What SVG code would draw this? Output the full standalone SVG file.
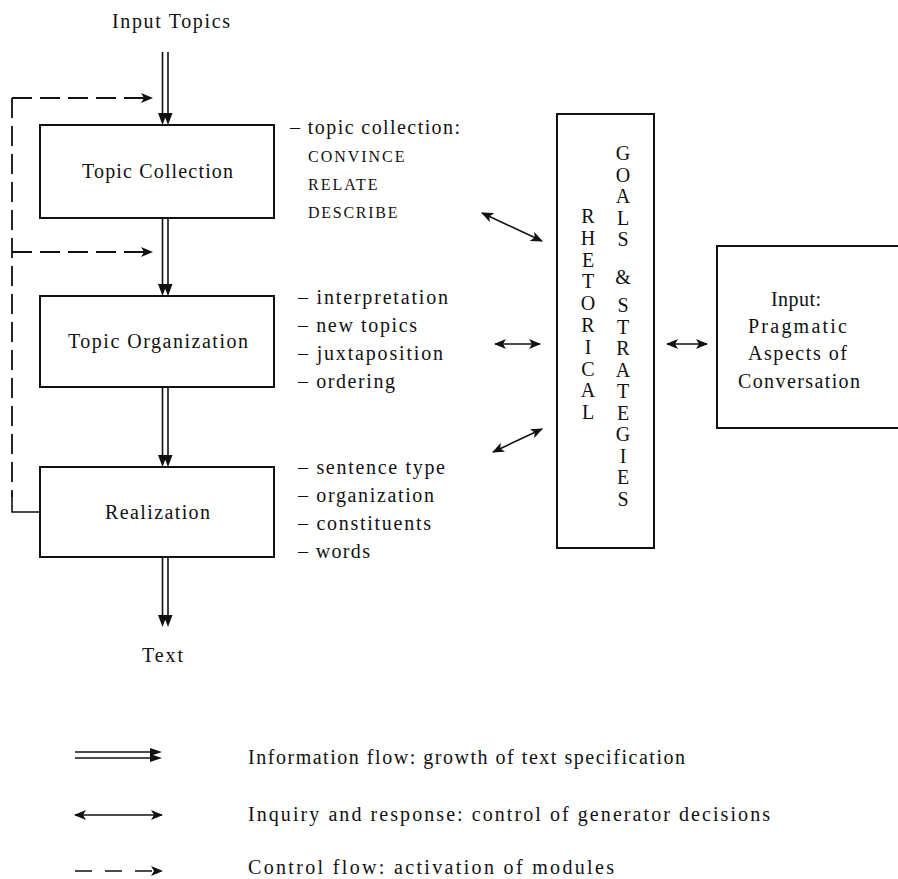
<svg xmlns="http://www.w3.org/2000/svg" width="898" height="879" viewBox="0 0 898 879">
<defs>
<style>
text{font-family:"Liberation Serif","Times New Roman",serif;font-size:20px;fill:#111}
.sc{font-size:16px;letter-spacing:1.5px}
.box{fill:#fff;stroke:#111;stroke-width:2}
.ln{stroke:#111;stroke-width:1.6;fill:none}
.dsh{stroke:#111;stroke-width:1.8;fill:none;stroke-dasharray:20 8}
.head{fill:#111}
</style>
<marker id="ah" viewBox="0 0 12 10" refX="11" refY="5" markerWidth="13" markerHeight="10" markerUnits="userSpaceOnUse" orient="auto-start-reverse">
<path d="M0,0 L12,5 L0,10 L3,5 Z" class="head"/>
</marker>
</defs>
<rect width="898" height="879" fill="#fff"/>

<g id="connectors">
<g id="flow-in">
<line class="ln" x1="162.5" y1="52" x2="162.5" y2="116"/>
<line class="ln" x1="168" y1="52" x2="168" y2="116"/>
<path class="head" d="M158,113 L162.5,125 L167,113 Z M163.5,113 L168,125 L172.5,113 Z"/>
</g>
<g id="flow-tc-to">
<line class="ln" x1="162.5" y1="218" x2="162.5" y2="287"/>
<line class="ln" x1="168" y1="218" x2="168" y2="287"/>
<path class="head" d="M158,284 L162.5,296 L167,284 Z M163.5,284 L168,296 L172.5,284 Z"/>
</g>
<g id="flow-to-r">
<line class="ln" x1="162.5" y1="387" x2="162.5" y2="458"/>
<line class="ln" x1="168" y1="387" x2="168" y2="458"/>
<path class="head" d="M158,455 L162.5,467 L167,455 Z M163.5,455 L168,467 L172.5,455 Z"/>
</g>
<g id="flow-out">
<line class="ln" x1="162.5" y1="557" x2="162.5" y2="618"/>
<line class="ln" x1="168" y1="557" x2="168" y2="618"/>
<path class="head" d="M158,615 L162.5,627 L167,615 Z M163.5,615 L168,627 L172.5,615 Z"/>
</g>
<g id="control">
<line class="dsh" x1="12" y1="98" x2="152" y2="98" marker-end="url(#ah)"/>
<line class="dsh" x1="12" y1="252" x2="152" y2="252" marker-end="url(#ah)"/>
<line class="dsh" x1="12" y1="98" x2="12" y2="497"/>
<path class="ln" d="M12,494 V512 H40" stroke-width="1.8"/>
</g>
<g id="inquiry">
<line class="ln" x1="482" y1="213" x2="542" y2="241" marker-start="url(#ah)" marker-end="url(#ah)"/>
<line class="ln" x1="495" y1="344" x2="540" y2="344" marker-start="url(#ah)" marker-end="url(#ah)"/>
<line class="ln" x1="493" y1="452" x2="542" y2="429" marker-start="url(#ah)" marker-end="url(#ah)"/>
<line class="ln" x1="667" y1="344" x2="707" y2="344" marker-start="url(#ah)" marker-end="url(#ah)"/>
</g>
</g>

<text x="171" y="28" text-anchor="middle" textLength="118" lengthAdjust="spacing">Input Topics</text>

<g id="topic-collection">
<rect class="box" x="40" y="125" width="234" height="93"/>
<text x="82" y="178" textLength="151" lengthAdjust="spacing">Topic Collection</text>
</g>
<g id="topic-organization">
<rect class="box" x="40" y="296" width="234" height="91"/>
<text x="68" y="348" textLength="180" lengthAdjust="spacing">Topic Organization</text>
</g>
<g id="realization">
<rect class="box" x="40" y="467" width="234" height="90"/>
<text x="105" y="519" textLength="105" lengthAdjust="spacing">Realization</text>
</g>
<text x="142" y="662" textLength="41" lengthAdjust="spacing">Text</text>

<g id="collection-notes">
<text x="290" y="134" textLength="170" lengthAdjust="spacing">– topic collection:</text>
<text class="sc" x="308" y="162" textLength="98" lengthAdjust="spacing">CONVINCE</text>
<text class="sc" x="308" y="190" textLength="71" lengthAdjust="spacing">RELATE</text>
<text class="sc" x="308" y="218" textLength="91" lengthAdjust="spacing">DESCRIBE</text>
</g>
<g id="organization-notes">
<text x="298" y="304" textLength="150" lengthAdjust="spacing">– interpretation</text>
<text x="298" y="332" textLength="119" lengthAdjust="spacing">– new topics</text>
<text x="298" y="360" textLength="145" lengthAdjust="spacing">– juxtaposition</text>
<text x="298" y="388" textLength="97" lengthAdjust="spacing">– ordering</text>
</g>
<g id="realization-notes">
<text x="298" y="474" textLength="147" lengthAdjust="spacing">– sentence type</text>
<text x="298" y="502" textLength="136" lengthAdjust="spacing">– organization</text>
<text x="298" y="530" textLength="133" lengthAdjust="spacing">– constituents</text>
<text x="298" y="558" textLength="72" lengthAdjust="spacing">– words</text>
</g>

<g id="rhetorical-goals">
<rect class="box" x="557" y="114" width="97" height="434"/>
<g text-anchor="middle">
<text x="588" y="223">R</text>
<text x="588" y="244.8">H</text>
<text x="588" y="266.6">E</text>
<text x="588" y="288.4">T</text>
<text x="588" y="310.2">O</text>
<text x="588" y="332">R</text>
<text x="588" y="353.8">I</text>
<text x="588" y="375.6">C</text>
<text x="588" y="397.4">A</text>
<text x="588" y="419.2">L</text>
<text x="623" y="160">G</text>
<text x="623" y="181.5">O</text>
<text x="623" y="203">A</text>
<text x="623" y="224.5">L</text>
<text x="623" y="246">S</text>
<text x="623" y="284">&amp;</text>
<text x="623" y="312">S</text>
<text x="623" y="333.5">T</text>
<text x="623" y="355">R</text>
<text x="623" y="376.5">A</text>
<text x="623" y="398">T</text>
<text x="623" y="419.5">E</text>
<text x="623" y="441">G</text>
<text x="623" y="462.5">I</text>
<text x="623" y="484">E</text>
<text x="623" y="505.5">S</text>
</g>
</g>

<g id="pragmatic-input">
<rect class="box" x="717" y="246" width="200" height="182"/>
<text x="771" y="306" textLength="50" lengthAdjust="spacing">Input:</text>
<text x="748" y="333" textLength="99" lengthAdjust="spacing">Pragmatic</text>
<text x="748" y="360" textLength="99" lengthAdjust="spacing">Aspects of</text>
<text x="738" y="388" textLength="122" lengthAdjust="spacing">Conversation</text>
</g>

<g id="legend">
<line class="ln" x1="75" y1="752" x2="154" y2="752"/>
<line class="ln" x1="75" y1="758" x2="154" y2="758"/>
<path class="head" d="M150,748 L162,752 L150,756 Z M150,754 L162,758 L150,762 Z"/>
<text x="248" y="764" textLength="437" lengthAdjust="spacing">Information flow: growth of text specification</text>
<line class="ln" x1="75" y1="815" x2="162" y2="815" marker-start="url(#ah)" marker-end="url(#ah)"/>
<text x="248" y="821" textLength="522" lengthAdjust="spacing">Inquiry and response: control of generator decisions</text>
<line class="ln" x1="75" y1="871" x2="162" y2="871" stroke-dasharray="17 13" stroke-width="1.8" marker-end="url(#ah)"/>
<text x="248" y="874" textLength="366" lengthAdjust="spacing">Control flow: activation of modules</text>
</g>
</svg>
